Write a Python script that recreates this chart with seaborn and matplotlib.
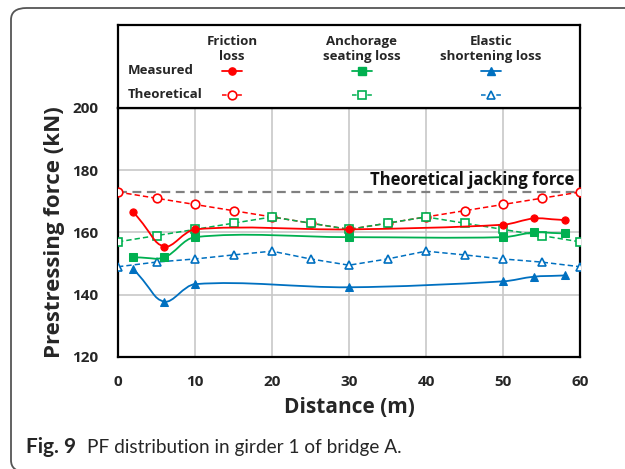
import numpy as np
import pandas as pd
import matplotlib
matplotlib.use("Agg")
import matplotlib.pyplot as plt
import seaborn as sns
from matplotlib.path import Path
from matplotlib.patches import PathPatch, FancyBboxPatch

# ---- data -------------------------------------------------------------
theory_x = [0, 5, 10, 15, 20, 25, 30, 35, 40, 45, 50, 55, 60]
friction_theory = [173, 171, 169, 167, 165, 163, 161, 163, 165, 167, 169, 171, 173]
anchorage_theory = [157, 159, 161, 163, 165, 163, 161, 163, 165, 163, 161, 159, 157]
elastic_theory = [149, 150.5, 151.5, 152.8, 154, 151.5, 149.5, 151.5, 154, 152.8, 151.5, 150.5, 149]

measured_x = [2, 6, 10, 30, 50, 54, 58]
friction_measured = [166.5, 155.5, 161, 161, 162.5, 164.5, 164]
anchorage_measured = [152, 152, 158.5, 158.5, 158.5, 160, 159.7]
elastic_measured = [148.2, 137.8, 143.4, 142.4, 144.3, 145.8, 146.2]

jacking_force = 173

x_ticks = [0, 10, 20, 30, 40, 50, 60]
y_ticks = [120, 140, 160, 180, 200]

series_names = ["Friction\nloss", "Anchorage\nseating loss", "Elastic\nshortening loss"]
colors = ["#FF0000", "#00B050", "#0070C0"]
markers = ["o", "s", "^"]

# ---- style ------------------------------------------------------------
sns.set_style("white")
plt.rcParams["font.family"] = ["Open Sans", "DejaVu Sans"]

fig = plt.figure(figsize=(6.25, 4.69), dpi=100)

# rounded outer frame
frame = FancyBboxPatch((11 / 625, -3 / 469), 1.2, (469 - 8 + 3) / 469,
                       boxstyle="round,pad=0,rounding_size=0.025",
                       transform=fig.transFigure, fill=False,
                       edgecolor="#555555", linewidth=1.3, clip_on=False)
fig.patches.append(frame)

ax = fig.add_axes([118 / 625, 1 - 357 / 469, 462 / 625, 249 / 469])
lax = fig.add_axes([118 / 625, 1 - 108 / 469, 462 / 625, 83 / 469])

# approximate screen scale (px per data unit) used to shape the smooth curves
SX, SY = 7.7, 3.11


def smooth_path(xs, ys, tension=1 / 3):
    """Cubic Bezier path through the points with chord-weighted tangents."""
    pts = np.column_stack([xs, ys]).astype(float)
    scr = pts * [SX, SY]
    n = len(pts)
    verts = [pts[0]]
    codes = [Path.MOVETO]
    for i in range(n - 1):
        i0 = max(i - 1, 0)
        i3 = min(i + 2, n - 1)
        p0, p1, p2, p3 = pts[i0], pts[i], pts[i + 1], pts[i3]
        d01 = np.linalg.norm(scr[i] - scr[i0])
        d12 = np.linalg.norm(scr[i + 1] - scr[i])
        d23 = np.linalg.norm(scr[i3] - scr[i + 1])
        w1 = d12 / (d01 + d12) if d01 + d12 > 0 else 0
        w2 = d12 / (d12 + d23) if d12 + d23 > 0 else 0
        c1 = p1 + (p2 - p0) * tension * w1 * (2 if i == 0 else 1)
        c2 = p2 - (p3 - p1) * tension * w2 * (2 if i3 == i + 1 else 1)
        verts += [c1, c2, p2]
        codes += [Path.CURVE4] * 3
    return Path(verts, codes)


# theoretical jacking force
ax.axhline(jacking_force, color="#808080", linestyle=(0, (4, 2.5)), linewidth=1.6, zorder=2)
ax.text(59.3, jacking_force + 0.9, "Theoretical jacking force", ha="right", va="bottom",
        fontsize=12, fontweight="bold", color="#111111")

theory = [friction_theory, anchorage_theory, elastic_theory]
measured = [friction_measured, anchorage_measured, elastic_measured]
msize_theory = [6.2, 6.0, 6.0]
msize_meas = [5.2, 6.0, 5.4]

for k in range(3):
    df = pd.DataFrame({"x": theory_x, "y": theory[k]})
    sns.lineplot(data=df, x="x", y="y", ax=ax, color=colors[k], linewidth=1.1,
                 linestyle=(0, (3.5, 2)), marker=markers[k],
                 markersize=msize_theory[k], markerfacecolor="white",
                 markeredgecolor=colors[k], markeredgewidth=1.2, zorder=3 + k)

for k in [2, 1, 0]:
    ax.add_patch(PathPatch(smooth_path(measured_x, measured[k]), fill=False,
                           edgecolor=colors[k], linewidth=1.3, zorder=7))
    df = pd.DataFrame({"x": measured_x, "y": measured[k]})
    sns.lineplot(data=df, x="x", y="y", ax=ax, color=colors[k], linestyle="none",
                 marker=markers[k], markersize=msize_meas[k],
                 markerfacecolor=colors[k], markeredgecolor=colors[k], zorder=8)

ax.set_xlim(0, 60)
ax.set_ylim(120, 200)
ax.set_xticks(x_ticks)
ax.set_yticks(y_ticks)
ax.grid(True, color="#C8C8C8", linewidth=1.2)
ax.set_axisbelow(True)
for s in ax.spines.values():
    s.set_color("black")
    s.set_linewidth(1.6)
ax.tick_params(axis="x", length=0, labelsize=11, pad=13)
ax.tick_params(axis="y", length=0, labelsize=11, pad=14)
for lbl in ax.get_xticklabels() + ax.get_yticklabels():
    lbl.set_fontweight("bold")
ax.set_xlabel("Distance (m)", fontsize=15, fontweight="bold", labelpad=6)
ax.set_ylabel("Prestressing force (kN)", fontsize=16, fontweight="bold", labelpad=5)

# ---- legend panel ------------------------------------------------------
lax.set_xlim(0, 1)
lax.set_ylim(0, 1)
lax.set_xticks([])
lax.set_yticks([])
for s in lax.spines.values():
    s.set_color("black")
    s.set_linewidth(1.6)

col_x = [0.247, 0.528, 0.807]
row_y = [0.446, 0.157]
half = 0.022
lax.text(0.022, row_y[0], "Measured", ha="left", va="center", fontsize=9.5, fontweight="bold")
lax.text(0.022, row_y[1], "Theoretical", ha="left", va="center", fontsize=9.5, fontweight="bold")
for k in range(3):
    cx = col_x[k]
    lax.text(cx, 0.71, series_names[k], ha="center", va="center", fontsize=9.5,
             fontweight="bold", linespacing=1.2)
    lax.plot([cx - half, cx + half], [row_y[0]] * 2, color=colors[k], linewidth=1.3)
    lax.plot([cx], [row_y[0]], marker=markers[k], markersize=msize_meas[k],
             color=colors[k])
    lax.plot([cx - half, cx + half], [row_y[1]] * 2, color=colors[k], linewidth=1.1,
             linestyle=(0, (3, 2)))
    lax.plot([cx], [row_y[1]], marker=markers[k], markersize=msize_theory[k],
             markerfacecolor="white", markeredgecolor=colors[k], markeredgewidth=1.2)

# ---- caption -----------------------------------------------------------
fig.text(26 / 625, 1 - 447 / 469, "Fig. 9", fontsize=15, fontweight="bold",
         ha="left", va="center", family=["Lato", "DejaVu Sans"])
fig.text(87 / 625, 1 - 447 / 469, "PF distribution in girder 1 of bridge A.", fontsize=13.7,
         ha="left", va="center", family=["Lato", "DejaVu Sans"])

fig.savefig("out.png", dpi=100)
